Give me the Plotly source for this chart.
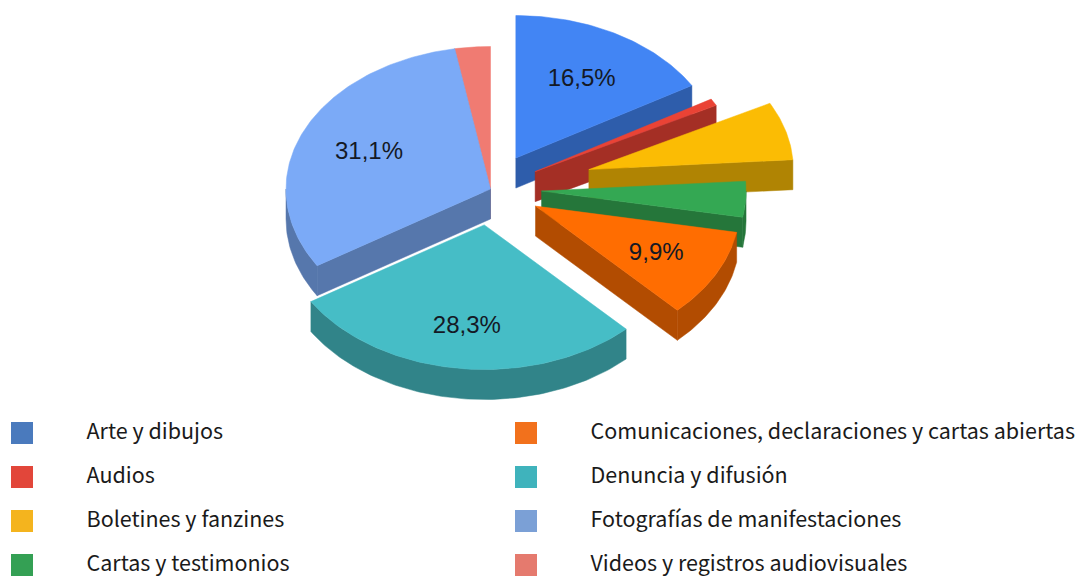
import math
import plotly.graph_objects as go

categories = ["Arte y dibujos", "Audios", "Boletines y fanzines", "Cartas y testimonios",
              "Comunicaciones, declaraciones y cartas abiertas", "Denuncia y difusión",
              "Fotografías de manifestaciones", "Videos y registros audiovisuales"]
values = [16.5, 0.8, 6.6, 4.0, 9.9, 28.3, 31.1, 2.8]
labels = ["16,5%", "", "", "", "9,9%", "28,3%", "31,1%", ""]
explode = [0.25, 0.25, 0.5, 0.25, 0.25, 0.25, 0, 0]
label_radius = [0.65, 0, 0, 0, 0.67, 0.695, 0.65, 0]
top_colors = ["#4285F4", "#EA4335", "#FBBC04", "#34A853", "#FF6D01", "#46BDC6", "#7BAAF7", "#F07B72"]
side_colors = ["#2E5DAB", "#A42F25", "#B08403", "#25763A", "#B24C01", "#318489", "#5677AC", "#A85650"]
legend_colors = ["#4A7ABD", "#E2463A", "#F4B41E", "#34A054", "#F2711C", "#3FB3BC", "#7BA0D6", "#E57A6E"]

CX, CY, RX, RY, DEPTH, NEAR = 490.5, 189.0, 204.5, 142.5, 30.0, 1.015


def off(deg, r):
    a = math.radians(deg)
    return r * RX * math.sin(a), -r * RY * math.cos(a)


def proj(dx, dy):
    # the near half of the disc is drawn slightly larger, as in a perspective view
    return CX + dx, CY + (dy * NEAR if dy > 0 else dy)


def poly(fig, pts, color, name):
    fig.add_trace(go.Scatter(x=[p[0] for p in pts] + [pts[0][0]], y=[p[1] for p in pts] + [pts[0][1]],
                             mode="lines", fill="toself", fillcolor=color, line=dict(width=0.5, color=color),
                             hoverinfo="skip", showlegend=False, name=name))


fig = go.Figure()
total = sum(values)
start = []
acc = 0.0
for v in values:
    start.append(acc)
    acc += v * 360 / total

for i in [7, 6, 0, 1, 2, 3, 4, 5]:
    t0 = start[i]
    t1 = t0 + values[i] * 360 / total
    mid = (t0 + t1) / 2
    ox, oy = off(mid, explode[i])

    def pt(t):
        dx, dy = off(t, 1)
        return proj(ox + dx, oy + dy)

    apex = proj(ox, oy)
    for t, visible in ((t0, 180 <= t0 < 360), (t1, 0 < t1 <= 180)):
        if visible:
            e = pt(t)
            poly(fig, [apex, e, (e[0], e[1] + DEPTH), (apex[0], apex[1] + DEPTH)], side_colors[i], categories[i])
    a, b = max(t0, 90), min(t1, 270)
    if a < b:
        n = max(2, int(b - a) + 1)
        arc = [pt(a + (b - a) * k / (n - 1)) for k in range(n)]
        poly(fig, arc + [(p[0], p[1] + DEPTH) for p in reversed(arc)], side_colors[i], categories[i])
    n = max(2, int(t1 - t0) + 2)
    arc = [pt(t0 + (t1 - t0) * k / (n - 1)) for k in range(n)]
    poly(fig, [apex] + arc, top_colors[i], categories[i])

lx, ly, lt = [], [], []
for i, lab in enumerate(labels):
    if lab:
        mid = start[i] + values[i] * 180 / total
        ox, oy = off(mid, explode[i])
        dx, dy = off(mid, label_radius[i])
        x, y = proj(ox + dx, oy + dy)
        lx.append(x); ly.append(y + 2); lt.append(lab)
fig.add_trace(go.Scatter(x=lx, y=ly, text=lt, mode="text", textposition="middle center",
                         textfont=dict(family="Liberation Sans", size=24, color="#141925"),
                         hoverinfo="skip", showlegend=False))

for i, c in enumerate(categories):
    col, row = i // 4, i % 4
    kx = 22 + col * 504
    ky = 433 + row * 44
    fig.add_trace(go.Scatter(x=[kx], y=[ky], mode="markers",
                             marker=dict(symbol="square", size=22, color=legend_colors[i], line=dict(width=0)),
                             hoverinfo="skip", showlegend=False, name=c))
    fig.add_trace(go.Scatter(x=[kx + 64.5], y=[ky + 1], text=[c], mode="text", textposition="middle right",
                             textfont=dict(family="Noto Sans CJK JP", size=21.5, color="#1a1a1a"),
                             hoverinfo="skip", showlegend=False, name=c))

fig.update_layout(width=1077, height=576, margin=dict(l=0, r=0, t=0, b=0),
                  paper_bgcolor="white", plot_bgcolor="white", showlegend=False,
                  xaxis=dict(range=[0, 1077], visible=False, fixedrange=True),
                  yaxis=dict(range=[576, 0], visible=False, fixedrange=True))
fig.write_html("out.html", config={"displayModeBar": False},
               post_script="document.body.style.margin='0';document.body.style.overflow='hidden';")
